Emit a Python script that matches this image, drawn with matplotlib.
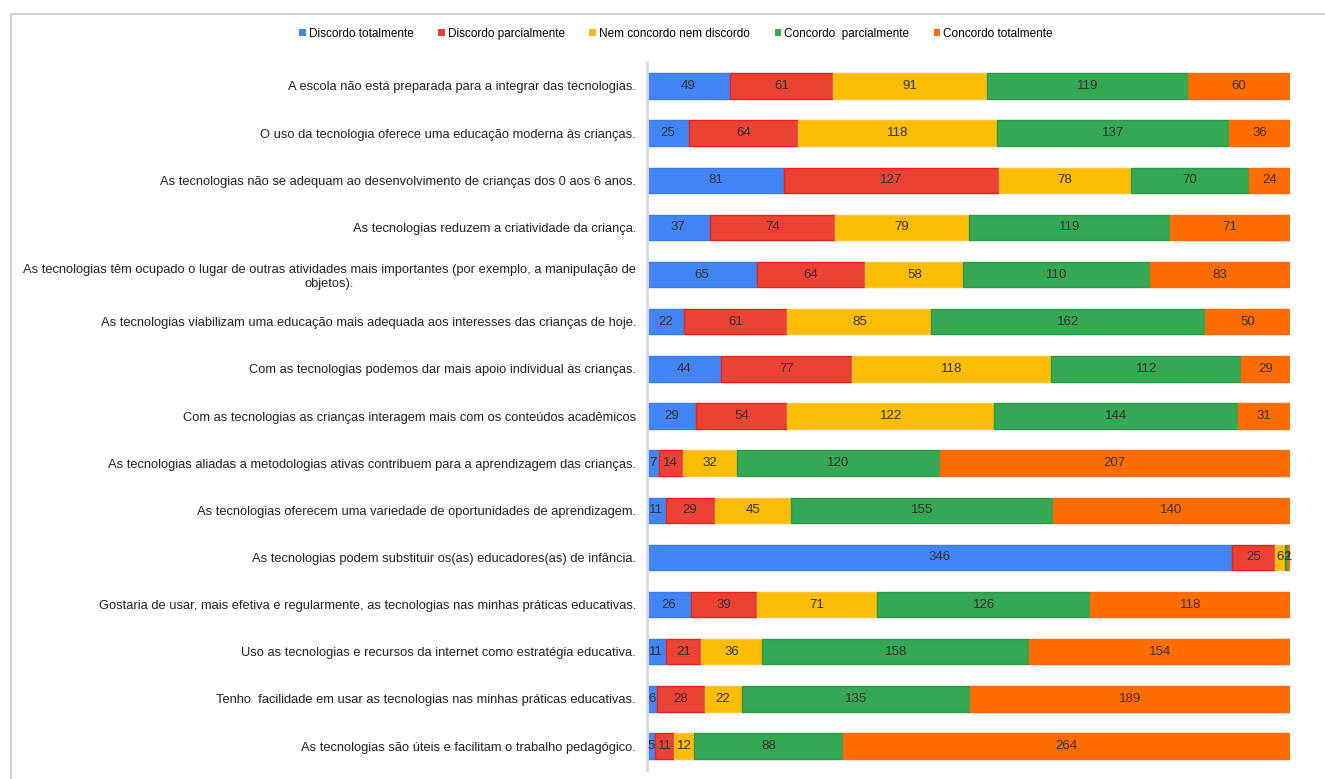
import matplotlib
matplotlib.use("Agg")
import matplotlib.pyplot as plt
from matplotlib.patches import Rectangle
import numpy as np

categories = [
    "A escola não está preparada para a integrar das tecnologias.",
    "O uso da tecnologia oferece uma educação moderna às crianças.",
    "As tecnologias não se adequam ao desenvolvimento de crianças dos 0 aos 6 anos.",
    "As tecnologias reduzem a criatividade da criança.",
    "As tecnologias têm ocupado o lugar de outras atividades mais importantes (por exemplo, a manipulação de\nobjetos).",
    "As tecnologias viabilizam uma educação mais adequada aos interesses das crianças de hoje.",
    "Com as tecnologias podemos dar mais apoio individual às crianças.",
    "Com as tecnologias as crianças interagem mais com os conteúdos acadêmicos",
    "As tecnologias aliadas a metodologias ativas contribuem para a aprendizagem das crianças.",
    "As tecnologias oferecem uma variedade de oportunidades de aprendizagem.",
    "As tecnologias podem substituir os(as) educadores(as) de infância.",
    "Gostaria de usar, mais efetiva e regularmente, as tecnologias nas minhas práticas educativas.",
    "Uso as tecnologias e recursos da internet como estratégia educativa.",
    "Tenho  facilidade em usar as tecnologias nas minhas práticas educativas.",
    "As tecnologias são úteis e facilitam o trabalho pedagógico.",
]

series_names = ["Discordo totalmente", "Discordo parcialmente", "Nem concordo nem discordo",
                "Concordo  parcialmente", "Concordo totalmente"]

discordo_totalmente = [49, 25, 81, 37, 65, 22, 44, 29, 7, 11, 346, 26, 11, 6, 5]
discordo_parcialmente = [61, 64, 127, 74, 64, 61, 77, 54, 14, 29, 25, 39, 21, 28, 11]
nem_nem = [91, 118, 78, 79, 58, 85, 118, 122, 32, 45, 6, 71, 36, 22, 12]
concordo_parcialmente = [119, 137, 70, 119, 110, 162, 112, 144, 120, 155, 2, 126, 158, 135, 88]
concordo_totalmente = [60, 36, 24, 71, 83, 50, 29, 31, 207, 140, 1, 118, 154, 189, 264]

series = [discordo_totalmente, discordo_parcialmente, nem_nem, concordo_parcialmente, concordo_totalmente]
colors = ["#4285F4", "#EA4335", "#FBBC04", "#34A853", "#FF6D01"]
edges = ["#3b7be8", "#e8231b", "#fbc53a", "#2a9a47", "#f86a10"]

FAM = ["Liberation Sans", "DejaVu Sans"]

fig = plt.figure(figsize=(13.25, 7.79), dpi=100)
fig.patch.set_facecolor("white")

# outer frame (cropped chart border)
fig.add_artist(Rectangle((11 / 1325, -0.05), 1.1, 1 - 14 / 779 + 0.05,
                         transform=fig.transFigure, fill=False,
                         edgecolor="#d0d0d0", linewidth=1.5))

ax = fig.add_axes([647 / 1325, 1 - 769.6 / 779, (1290 - 647) / 1325, (769.6 - 62.4) / 779])

y = np.arange(len(categories))
left = np.zeros(len(categories))
handles = []
for vals, name, c, ec in zip(series, series_names, colors, edges):
    vals = np.array(vals, dtype=float)
    bars = ax.barh(y, vals, left=left, height=0.54, color=c, edgecolor=ec,
                   linewidth=1.0, label=name)
    handles.append(bars)
    for yi, (l, v) in enumerate(zip(left, vals)):
        if v <= 0:
            continue
        ax.text(l + v / 2, yi, f"{int(v)}", ha="center", va="center",
                fontsize=9.5, color="#333333", family=FAM)
    left += vals

ax.set_xlim(0, 380)
ax.set_ylim(len(categories) - 0.5, -0.5)
ax.set_yticks(y)
ax.set_yticklabels(categories, fontsize=9.3, color="#222222",
                   family=FAM, multialignment="center")
ax.tick_params(axis="y", length=0, pad=8)
ax.set_xticks([])
for s in ["top", "right", "bottom"]:
    ax.spines[s].set_visible(False)
ax.spines["left"].set_color("#d9d9d9")
ax.spines["left"].set_linewidth(2)

leg = fig.legend(handles=handles, labels=series_names, loc="center",
                 bbox_to_anchor=(676 / 1325, 1 - 34 / 779), ncol=5, frameon=False,
                 prop={"family": FAM, "size": 8.5},
                 handlelength=0.55, handleheight=0.55, handletextpad=0.25, columnspacing=2.1)
for h in leg.legend_handles:
    h.set_edgecolor("none")

fig.savefig("out.png", dpi=100)
